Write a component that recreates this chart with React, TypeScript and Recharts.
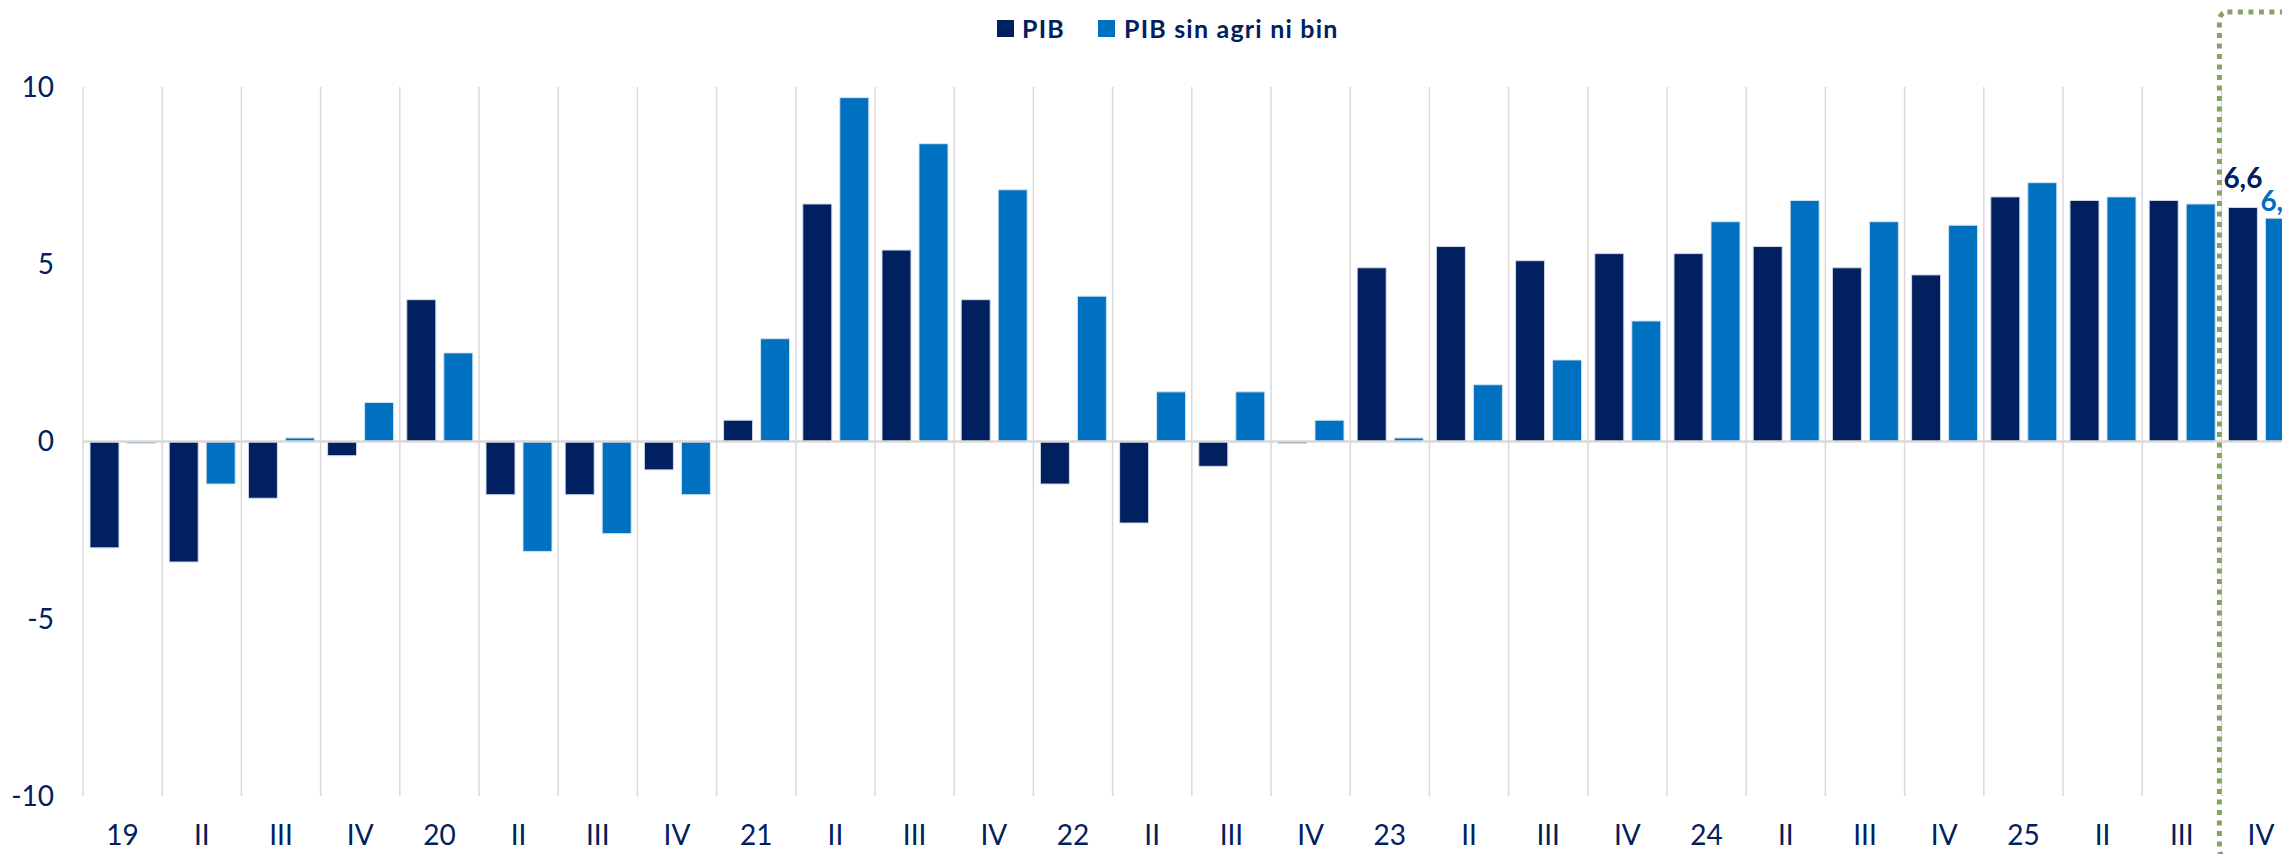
import React from 'react';
import { BarChart, Bar, XAxis, YAxis, CartesianGrid, ReferenceLine, LabelList } from 'recharts';

// quarter labels, 2019-I .. 2025-IV
const quarters = [
  '19', 'II', 'III', 'IV', '20', 'II', 'III', 'IV', '21', 'II', 'III', 'IV', '22', 'II',
  'III', 'IV', '23', 'II', 'III', 'IV', '24', 'II', 'III', 'IV', '25', 'II', 'III', 'IV',
];

// PIB, % a/a
const pib = [
  -3.0, -3.4, -1.6, -0.4, 4.0, -1.5, -1.5, -0.8, 0.6, 6.7, 5.4, 4.0, -1.2, -2.3,
  -0.7, -0.05, 4.9, 5.5, 5.1, 5.3, 5.3, 5.5, 4.9, 4.7, 6.9, 6.8, 6.8, 6.6,
];

// PIB sin agricultura ni bienes intermedios
const pibSinAgri = [
  -0.05, -1.2, 0.1, 1.1, 2.5, -3.1, -2.6, -1.5, 2.9, 9.7, 8.4, 7.1, 4.1, 1.4,
  1.4, 0.6, 0.1, 1.6, 2.3, 3.4, 6.2, 6.8, 6.2, 6.1, 7.3, 6.9, 6.7, 6.3,
];

const yTicks = [-10, -5, 0, 5, 10];

const NAVY = '#002060';
const BLUE = '#0070c0';
const FONT = 'Lato, "Open Sans", sans-serif';

const data = quarters.map((q, i) => ({ id: `q${i}`, label: q, pib: pib[i], sinAgri: pibSinAgri[i] }));
const lastIndex = data.length - 1;

// chart geometry
const Y_AXIS_W = 83;
const CAT_W = 79.2;
const CHART_W = Y_AXIS_W + CAT_W * quarters.length;
const TOP = 87;
const X_AXIS_H = 66;

const lastValueLabel = (color: string, lift: number) => (props: any) => {
  const { x, y, width, value, index } = props;
  if (index !== lastIndex) return null;
  return (
    <text
      x={Number(x) + Number(width) / 2}
      y={Number(y) - lift}
      textAnchor="middle"
      fill={color}
      fontSize={28}
      fontWeight={700}
      fontFamily={FONT}
    >
      {String(value).replace('.', ',')}
    </text>
  );
};

export default function App() {
  const boxLeft = Y_AXIS_W + CAT_W * lastIndex - 2;

  return (
    <div style={{ position: 'relative', width: 2290, height: 862, margin: -8, overflow: 'hidden', background: '#fff' }}>
      <div
        style={{
          position: 'absolute',
          left: 997,
          top: 11,
          height: 34,
          display: 'flex',
          alignItems: 'center',
          fontFamily: FONT,
          fontWeight: 700,
          fontSize: 25,
          letterSpacing: 1.2,
          color: NAVY,
          whiteSpace: 'nowrap',
        }}
      >
        <span style={{ width: 17, height: 17, background: NAVY, marginRight: 8 }} />
        <span>PIB</span>
        <span style={{ width: 17, height: 17, background: BLUE, marginLeft: 33, marginRight: 9 }} />
        <span>PIB sin agri ni bin</span>
      </div>

      <BarChart
        width={CHART_W}
        height={862}
        data={data}
        margin={{ top: TOP, right: 0, bottom: 0, left: 0 }}
        barCategoryGap={7}
        barGap={8}
      >
        <CartesianGrid
          horizontal={false}
          stroke="#d9d9d9"
          strokeWidth={1.5}
          verticalCoordinatesGenerator={({ offset }: any) =>
            quarters.map((_, i) => offset.left + (i * offset.width) / quarters.length)
          }
        />
        <XAxis
          dataKey="id"
          interval={0}
          height={X_AXIS_H}
          axisLine={false}
          tickLine={false}
          tickSize={0}
          tickMargin={29}
          tickFormatter={(v: string, i: number) => quarters[i] ?? v}
          tick={{ fill: NAVY, fontSize: 28, fontFamily: FONT }}
        />
        <YAxis
          width={Y_AXIS_W}
          domain={[-10, 10]}
          ticks={yTicks}
          allowDataOverflow
          axisLine={false}
          tickLine={false}
          tickSize={0}
          tickMargin={29}
          tick={{ fill: NAVY, fontSize: 28, fontFamily: FONT }}
        />
        <Bar dataKey="pib" name="PIB" fill={NAVY} stroke="#d3d9e6" strokeWidth={1} isAnimationActive={false}>
          <LabelList dataKey="pib" content={lastValueLabel(NAVY, 20)} />
        </Bar>
        <Bar dataKey="sinAgri" name="PIB sin agri ni bin" fill={BLUE} stroke="#d3e3f2" strokeWidth={1} isAnimationActive={false}>
          <LabelList dataKey="sinAgri" content={lastValueLabel(BLUE, 7)} />
        </Bar>
        <ReferenceLine y={0} stroke="#d9d9d9" strokeWidth={2.5} />
      </BarChart>

      <svg
        width={2290}
        height={862}
        style={{ position: 'absolute', left: 0, top: 0, pointerEvents: 'none' }}
      >
        <rect
          x={boxLeft}
          y={12}
          width={200}
          height={846}
          rx={8}
          fill="none"
          stroke="#86a265"
          strokeWidth={5}
          strokeDasharray="5 5.5"
        />
      </svg>
    </div>
  );
}
